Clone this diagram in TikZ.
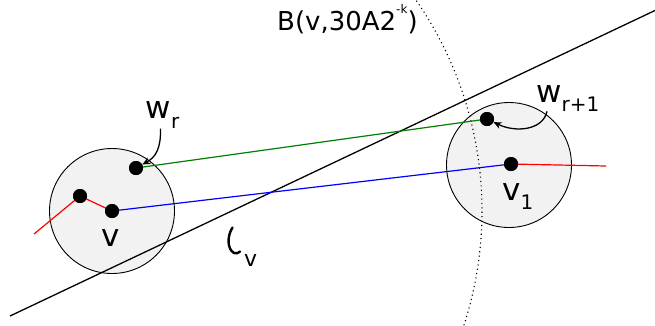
\documentclass[tikz,border=0pt]{standalone}
\usepackage{fontspec}
\setmainfont{DejaVu Sans}
\usetikzlibrary{arrows.meta}
\definecolor{ballfill}{HTML}{F2F2F2}
\definecolor{dgreen}{HTML}{008000}
\begin{document}
\begin{tikzpicture}[x=1pt,y=-1pt,
  ball/.style={circle,draw=black,line width=0.9pt,fill=ballfill,minimum size=125pt,inner sep=0pt},
  dot/.style={circle,fill=black,minimum size=14pt,inner sep=0pt},
  lab/.style={inner sep=0pt,anchor=base west,font=\fontsize{31}{36}\selectfont},
  edgeline/.style={line width=1.2pt},
  pointer/.style={line width=1.3pt,-{Stealth[length=8pt,width=7pt]}}]
\useasboundingbox (0,0) rectangle (655,325);
% balls
\node[ball] (Bl) at (112,211) {};
\node[ball] (Br) at (509,165) {};
% dotted big ball
\begin{scope}
\clip (0,0) rectangle (655,325);
\draw[line width=1.1pt,dash pattern=on 1.1pt off 3.3pt] (112,211) ++(-36:370) arc[start angle=-36,end angle=22,radius=370];
\end{scope}
% line l_v
\coordinate (lA) at (10,316);
\coordinate (lB) at (656,10);
\draw[line width=1.3pt] (lA) -- (lB);
% points
\node[dot] (v) at (112,211) {};
\node[dot] (u) at (80,196) {};
\node[dot] (wr) at (136,168) {};
\node[dot] (wr1) at (487,119) {};
\node[dot] (v1) at (511,164) {};
\coordinate (redA) at (34,234);
\coordinate (redB) at (606,166);
% paths
\draw[edgeline,red] (redA) -- (u.center) -- (v.center);
\draw[edgeline,blue] (v.center) -- (v1.center);
\draw[edgeline,dgreen] (wr.center) -- (wr1.center);
\draw[edgeline,red] (v1.center) -- (redB);
\node[dot] at (v) {};
\node[dot] at (u) {};
\node[dot] at (wr) {};
\node[dot] at (wr1) {};
\node[dot] at (v1) {};
% labels
\node[lab] (vlab) at (101,246.7) {v};
\node[lab] (v1lab) at (502,200) {v\raisebox{-9pt}{\fontsize{20}{22}\selectfont 1}};
\node[lab] (wrlab) at (145.5,118.3) {w\raisebox{-10pt}{\fontsize{20}{22}\selectfont r}};
\node[lab] (wr1lab) at (536,102.7) {w\raisebox{-8.5pt}{\fontsize{20}{22}\selectfont r+1}};
\node[lab,font=\fontsize{26}{30}\selectfont] (blab) at (277,30.7) {B(v,30A2\raisebox{17pt}{\fontsize{12}{14}\selectfont -k})};
% l_v label
\draw[line width=2.4pt,line cap=round] (232.5,227.5) .. controls (227,236) and (227,249) .. (234,253) .. controls (236.5,254) and (238.5,253) .. (240,251.5);
\node[lab,font=\fontsize{22}{26}\selectfont] (lvlab) at (244,266.7) {v};
% pointers
\draw[pointer] ([xshift=-2pt]wrlab.south) .. controls (161,148) and (156,157) .. (wr);
\draw[pointer] ([xshift=11pt]wr1lab.south west) .. controls (543,130) and (516,133) .. (wr1);
\end{tikzpicture}
\end{document}
